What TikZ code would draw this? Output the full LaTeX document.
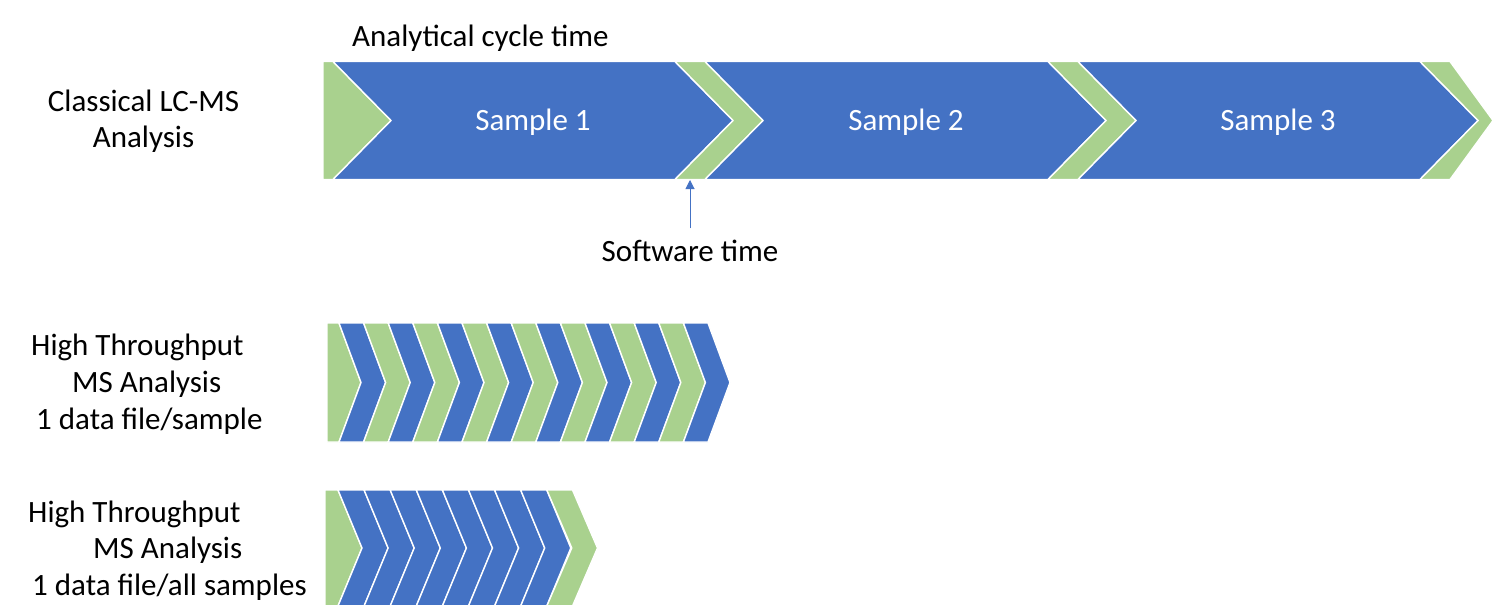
\documentclass[tikz,border=0pt]{standalone}
\usepackage{fontspec}
\setmainfont{Carlito}
\usetikzlibrary{arrows.meta}
\definecolor{chevblue}{HTML}{4472C4}
\definecolor{chevgreen}{HTML}{A9D18E}

% chevron: style, left x, right x, top y, bottom y, tip offset
\newcommand\chevshape[6]{%
  \path[#1] (#2,#4) -- (#3,#4) -- ({#3+#6},{(#4+#5)/2}) -- (#3,#5) -- (#2,#5)
    -- ({#2+#6},{(#4+#5)/2}) -- cycle;}
% flat-backed start piece: style, left x, shoulder x, top y, bottom y, tip offset
\newcommand\homeplate[6]{%
  \path[#1] (#2,#4) -- (#3,#4) -- ({#3+#6},{(#4+#5)/2}) -- (#3,#5) -- (#2,#5) -- cycle;}

\begin{document}
\begin{tikzpicture}[x=1pt,y=-1pt,
  labeltext/.style={font=\fontsize{31}{37}\selectfont, inner sep=0pt, text=black},
  sampletext/.style={labeltext, text=white, anchor=base},
  bluechev/.style={fill=chevblue, draw=white, line width=1.4pt, line join=miter},
  greenchev/.style={fill=chevgreen, draw=white, line width=1.4pt, line join=miter},
  pointer/.style={draw=chevblue, line width=1pt, -{Triangle[length=9pt,width=9pt]}},
]
\useasboundingbox (0,0) rectangle (1494,605);

% ---- classical LC-MS: three long samples separated by software time ----
\homeplate{greenchev}{323}{333}{61.5}{179.5}{58}
\chevshape{bluechev}{333}{675}{61.5}{179.5}{58}
\chevshape{greenchev}{675}{705}{61.5}{179.5}{58}
\chevshape{bluechev}{705}{1048}{61.5}{179.5}{58}
\chevshape{greenchev}{1048}{1078}{61.5}{179.5}{58}
\chevshape{bluechev}{1078}{1420}{61.5}{179.5}{58}
\path[greenchev] (1420,61.5) -- (1450,61.5) -- (1493,120.5) -- (1450,179.5)
  -- (1420,179.5) -- (1478,120.5) -- cycle;

\node[sampletext] (s1) at (533,130) {Sample 1};
\node[sampletext] (s2) at (906,130) {Sample 2};
\node[sampletext] (s3) at (1278,130) {Sample 3};

\node[labeltext, anchor=base west] (cycle) at (352,46) {Analytical cycle time};
\node[labeltext, anchor=base] (cls1) at (143.5,111) {Classical LC-MS};
\node[labeltext, anchor=base] (cls2) at (143.5,147) {Analysis};

\node[labeltext, anchor=base] (sw) at (690,261) {Software time};
\coordinate (swtick) at (690,180);
\draw[pointer] ([yshift=11pt]sw.north) -- (swtick);

% ---- high throughput, one data file per sample ----
\homeplate{greenchev}{327}{339}{323}{442}{22}
\foreach \k in {0,...,14}{
  \pgfmathsetmacro\L{339+24.6*\k}
  \pgfmathsetmacro\R{\L+24.6}
  \ifodd\k
    \chevshape{greenchev}{\L}{\R}{323}{442}{22}
  \else
    \chevshape{bluechev}{\L}{\R}{323}{442}{22}
  \fi
}
\node[labeltext, anchor=base west] (ht1) at (31,355) {High Throughput};
\node[labeltext, anchor=base west] (ht2) at (72,392) {MS Analysis};
\node[labeltext, anchor=base west] (ht3) at (36,429) {1 data file/sample};

% ---- high throughput, one data file for all samples ----
\homeplate{greenchev}{325}{338}{490}{606}{24}
\foreach \k in {0,...,7}{
  \pgfmathsetmacro\L{338+26.1*\k}
  \pgfmathsetmacro\R{\L+26.1}
  \chevshape{bluechev}{\L}{\R}{490}{606}{24}
}
\chevshape{greenchev}{546.8}{572.5}{490}{606}{25}
\node[labeltext, anchor=base west] (ha1) at (28,522) {High Throughput};
\node[labeltext, anchor=base west] (ha2) at (93,558) {MS Analysis};
\node[labeltext, anchor=base west] (ha3) at (32,595) {1 data file/all samples};
\end{tikzpicture}
\end{document}
